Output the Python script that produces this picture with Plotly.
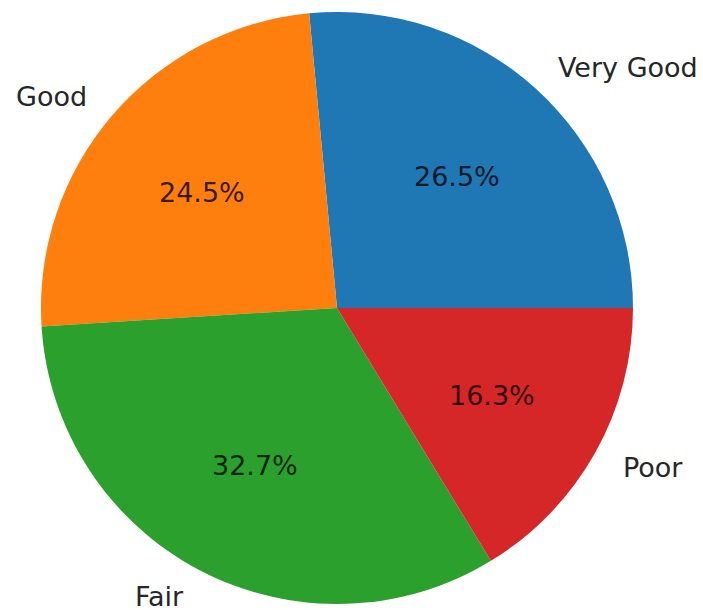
import math
import plotly.graph_objects as go

# Rating shares (percent of responses)
categories = ["Very Good", "Good", "Fair", "Poor"]
shares = [26.5, 24.5, 32.7, 16.3]
colors = ["#1f77b4", "#ff7f0e", "#2ca02c", "#d62728"]

W, H = 703, 610
cx, cy, r = 337, 308, 296  # pie centre and radius in pixels

total = sum(shares)
# Plotly's counterclockwise pies end the first slice at `rotation`; shift so
# the first slice begins at 3 o'clock and the rest follow counterclockwise.
rotation = 90 - 360.0 * shares[0] / total

fig = go.Figure(go.Pie(
    labels=categories,
    values=shares,
    sort=False,
    direction="counterclockwise",
    rotation=rotation,
    marker=dict(colors=colors, line=dict(width=0)),
    textinfo="none",
    hoverinfo="label+percent",
    showlegend=False,
    domain=dict(x=[(cx - r) / W, (cx + r) / W],
                y=[1 - (cy + r) / H, 1 - (cy - r) / H]),
))

# Place percentages at 0.6 r and category names at 1.1 r along each wedge's mid-angle
start = 0.0
annotations = []
font_family = "DejaVu Sans"
for name, val in zip(categories, shares):
    span = 360.0 * val / total
    mid = math.radians(start + span / 2)
    start += span
    px = cx + 0.6 * r * math.cos(mid)
    py = cy - 0.6 * r * math.sin(mid)
    annotations.append(dict(
        x=px / W, y=1 - py / H, xref="paper", yref="paper",
        text=f"{val / total * 100:.1f}%", showarrow=False,
        xanchor="center", yanchor="middle",
        font=dict(family=font_family, size=27, color="rgba(0,0,0,0.8)"),
    ))
    lx = cx + 1.1 * r * math.cos(mid)
    ly = cy - 1.1 * r * math.sin(mid)
    annotations.append(dict(
        x=lx / W, y=1 - ly / H, xref="paper", yref="paper",
        text=name, showarrow=False,
        xanchor="left" if math.cos(mid) > 0 else "right", yanchor="middle",
        font=dict(family=font_family, size=27, color="#262626"),
    ))

fig.update_layout(
    width=W, height=H,
    margin=dict(l=0, r=0, t=0, b=0),
    paper_bgcolor="white",
    plot_bgcolor="white",
    annotations=annotations,
)

fig.write_html("out.html")
